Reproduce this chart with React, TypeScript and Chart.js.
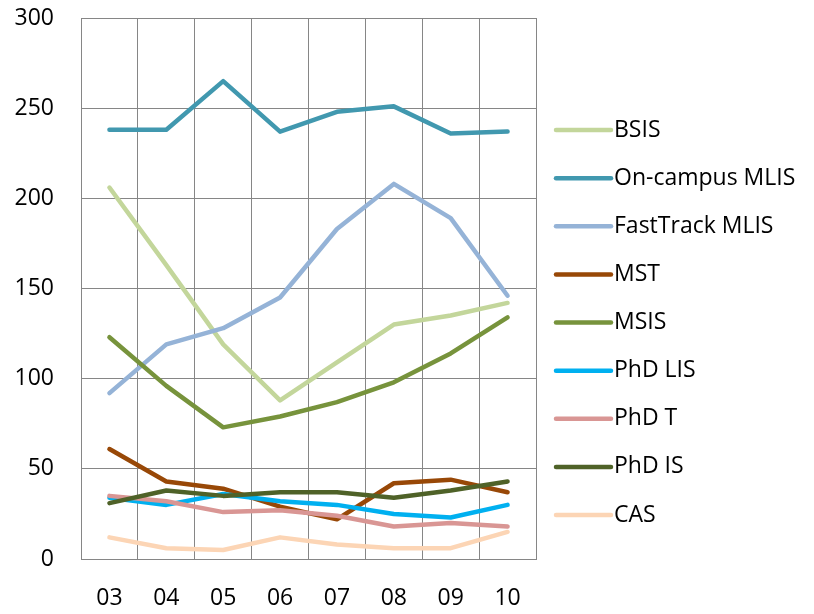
import React, { useEffect, useRef } from "react";
import { Chart, registerables } from "chart.js";

Chart.register(...registerables);

const years = ["03", "04", "05", "06", "07", "08", "09", "10"];
const seriesNames = ["BSIS", "On-campus MLIS", "FastTrack MLIS", "MST", "MSIS", "PhD LIS", "PhD T", "PhD IS", "CAS"];
const seriesColors = ["#C3D69B", "#4198AF", "#95B3D7", "#984807", "#77933C", "#00B0F0", "#D99694", "#4F6228", "#FCD5B5"];

const bsis = [206, 163, 119, 88, 109, 130, 135, 142];
const onCampusMlis = [238, 238, 265, 237, 248, 251, 236, 237];
const fastTrackMlis = [92, 119, 128, 145, 183, 208, 189, 146];
const mst = [61, 43, 39, 29, 22, 42, 44, 37];
const msis = [123, 96, 73, 79, 87, 98, 114, 134];
const phdLis = [34, 30, 36, 32, 30, 25, 23, 30];
const phdT = [35, 32, 26, 27, 24, 18, 20, 18];
const phdIs = [31, 38, 35, 37, 37, 34, 38, 43];
const cas = [12, 6, 5, 12, 8, 6, 6, 15];

const allSeries = [bsis, onCampusMlis, fastTrackMlis, mst, msis, phdLis, phdT, phdIs, cas];

const yMin = 0;
const yMax = 300;
const yStep = 50;

const FONT = "'Open Sans', 'Noto Sans', sans-serif";
const FONT_SIZE = 23;

const sideLegend = {
  id: "sideLegend",
  afterDraw(chart: any) {
    const { ctx, chartArea } = chart;
    const ds = chart.data.datasets;
    ctx.save();
    ctx.font = `${FONT_SIZE}px ${FONT}`;
    ctx.textBaseline = "middle";
    ctx.textAlign = "left";
    ds.forEach((d: any, i: number) => {
      const y = chartArea.top + 112 + i * 48.125;
      const x0 = chartArea.right + 20;
      ctx.beginPath();
      ctx.strokeStyle = d.borderColor;
      ctx.lineWidth = 4.5;
      ctx.lineCap = "round";
      ctx.moveTo(x0, y);
      ctx.lineTo(x0 + 55, y);
      ctx.stroke();
      ctx.fillStyle = "#000000";
      ctx.fillText(d.label, x0 + 58, y);
    });
    ctx.restore();
  },
};

export default function App() {
  const ref = useRef<HTMLCanvasElement | null>(null);

  useEffect(() => {
    if (!ref.current) return;
    const n = allSeries.length;
    const chart = new Chart(ref.current, {
      type: "line",
      data: {
        labels: years,
        datasets: allSeries.map((vals, i) => ({
          label: seriesNames[i],
          data: vals,
          borderColor: seriesColors[i],
          backgroundColor: seriesColors[i],
          borderWidth: 4.5,
          pointRadius: 0,
          pointHoverRadius: 0,
          tension: 0,
          fill: false,
          borderJoinStyle: "round" as const,
          borderCapStyle: "round" as const,
          order: n - i,
        })),
      },
      options: {
        responsive: false,
        animation: false,
        layout: { padding: { top: 10, right: 270, left: 0, bottom: 0 } },
        plugins: {
          legend: { display: false },
          tooltip: { enabled: false },
          title: { display: false },
        },
        scales: {
          x: {
            offset: true,
            grid: {
              display: true,
              offset: true,
              color: "#868686",
              lineWidth: 1,
              drawTicks: true,
              tickLength: 26,
              tickColor: "rgba(0,0,0,0)",
            },
            border: { display: true, color: "#868686", width: 1 },
            ticks: {
              color: "#000000",
              padding: 0,
              font: { family: FONT, size: FONT_SIZE, lineHeight: 1.2 },
              maxRotation: 0,
              autoSkip: false,
            },
            afterFit: (scale: any) => {
              scale.height = 55;
            },
          },
          y: {
            min: yMin,
            max: yMax,
            grid: {
              display: true,
              color: "#868686",
              lineWidth: 1,
              drawTicks: true,
              tickLength: 27,
              tickColor: "rgba(0,0,0,0)",
            },
            border: { display: true, color: "#868686", width: 1 },
            ticks: {
              stepSize: yStep,
              color: "#000000",
              padding: 0,
              font: { family: FONT, size: FONT_SIZE, lineHeight: 0.8 },
            },
            afterFit: (scale: any) => {
              scale.width = 73;
            },
          },
        },
      },
      plugins: [sideLegend],
    });
    return () => chart.destroy();
  }, []);

  return (
    <div style={{ width: 798, height: 598 }}>
      <canvas ref={ref} width={798} height={606} style={{ display: "block" }} />
    </div>
  );
}
